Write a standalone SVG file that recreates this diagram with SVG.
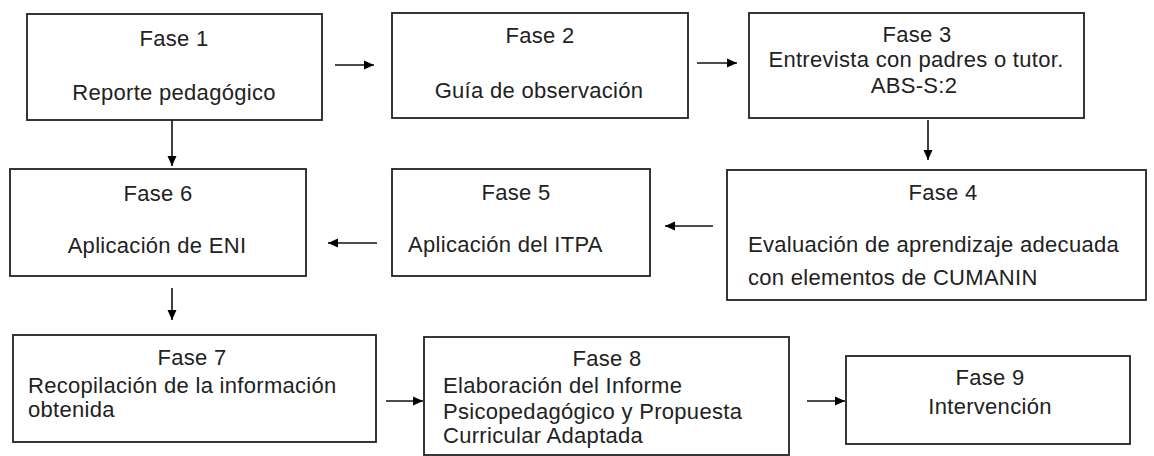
<svg xmlns="http://www.w3.org/2000/svg" width="1154" height="456" viewBox="0 0 1154 456">
<style>
.box{fill:#fff;stroke:#222;stroke-width:1.8}
.t{font-family:"Liberation Sans",Arial,sans-serif;font-size:22px;letter-spacing:0.3px;fill:#222}
.c{text-anchor:middle}
.ln{stroke:#111;stroke-width:1.6;fill:none}
</style>
<defs>
<marker id="ah" viewBox="0 0 10 10" refX="10" refY="5" markerWidth="10" markerHeight="10" markerUnits="userSpaceOnUse" orient="auto">
<path d="M0,0.5 L10,5 L0,9.5 z" fill="#000"/>
</marker>
</defs>
<rect width="1154" height="456" fill="#fff"/>
<g id="fase1">
<rect class="box" x="27" y="14" width="295" height="106"/>
<text class="t c" x="174" y="46">Fase 1</text>
<text class="t c" x="174" y="100">Reporte pedagógico</text>
</g>
<g id="fase2">
<rect class="box" x="392" y="13" width="296" height="105"/>
<text class="t c" x="540" y="43">Fase 2</text>
<text class="t c" x="539" y="98">Guía de observación</text>
</g>
<g id="fase3">
<rect class="box" x="749" y="13" width="335" height="105"/>
<text class="t c" x="917" y="42">Fase 3</text>
<text class="t c" x="916" y="67">Entrevista con padres o tutor.</text>
<text class="t c" x="914" y="93">ABS-S:2</text>
</g>
<g id="fase4">
<rect class="box" x="727" y="170" width="419" height="130"/>
<text class="t c" x="943" y="200">Fase 4</text>
<text class="t" x="748" y="252">Evaluación de aprendizaje adecuada</text>
<text class="t" x="748" y="285">con elementos de CUMANIN</text>
</g>
<g id="fase5">
<rect class="box" x="392" y="169" width="258" height="107"/>
<text class="t c" x="516" y="200">Fase 5</text>
<text class="t" x="408" y="252">Aplicación del ITPA</text>
</g>
<g id="fase6">
<rect class="box" x="10" y="169" width="296" height="107"/>
<text class="t c" x="158" y="201">Fase 6</text>
<text class="t c" x="157" y="253">Aplicación de ENI</text>
</g>
<g id="fase7">
<rect class="box" x="13" y="335" width="363" height="107"/>
<text class="t c" x="192" y="365">Fase 7</text>
<text class="t" x="28" y="393">Recopilación de la información</text>
<text class="t" x="28" y="417">obtenida</text>
</g>
<g id="fase8">
<rect class="box" x="424" y="337" width="365" height="118"/>
<text class="t c" x="607" y="366">Fase 8</text>
<text class="t" x="443" y="393">Elaboración del Informe</text>
<text class="t" x="443" y="419">Psicopedagógico y Propuesta</text>
<text class="t" x="443" y="443">Curricular Adaptada</text>
</g>
<g id="fase9">
<rect class="box" x="846" y="356" width="284" height="88"/>
<text class="t c" x="990" y="385">Fase 9</text>
<text class="t c" x="990" y="414">Intervención</text>
</g>
<g id="connectors">
<line class="ln" x1="335" y1="65" x2="374" y2="65" marker-end="url(#ah)"/>
<line class="ln" x1="697" y1="63" x2="737" y2="63" marker-end="url(#ah)"/>
<line class="ln" x1="928" y1="120" x2="928" y2="160" marker-end="url(#ah)"/>
<line class="ln" x1="172" y1="120" x2="172" y2="166" marker-end="url(#ah)"/>
<line class="ln" x1="713" y1="226" x2="665" y2="226" marker-end="url(#ah)"/>
<line class="ln" x1="377" y1="243" x2="328" y2="243" marker-end="url(#ah)"/>
<line class="ln" x1="172" y1="288" x2="172" y2="320" marker-end="url(#ah)"/>
<line class="ln" x1="386" y1="401" x2="423" y2="401" marker-end="url(#ah)"/>
<line class="ln" x1="807" y1="401" x2="845" y2="401" marker-end="url(#ah)"/>
</g>
</svg>
